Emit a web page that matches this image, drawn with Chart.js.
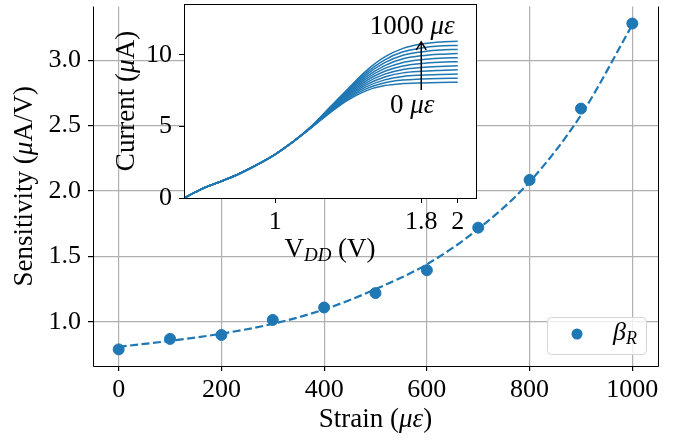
<!DOCTYPE html>
<html>
<head>
<meta charset="utf-8">
<script src="https://cdn.jsdelivr.net/npm/chart.js@4.4.1/dist/chart.umd.min.js"></script>
<style>
  html, body { margin: 0; padding: 0; background: #fff; }
  #wrap { position: relative; width: 686px; height: 441px; overflow: hidden; }
  #mainChart { position: absolute; left: 0; top: 0; }
  #insetChart { position: absolute; left: 100px; top: 0; }
</style>
</head>
<body>
<div id="wrap">
  <canvas id="mainChart" width="686" height="441"></canvas>
  <canvas id="insetChart" width="390" height="270"></canvas>
</div>
<script>
// main plot: sensitivity vs strain
const strain = [0, 100, 200, 300, 400, 500, 600, 700, 800, 900, 1000];
const sensitivity = [0.79, 0.87, 0.90, 1.015, 1.11, 1.22, 1.395, 1.72, 2.085, 2.63, 3.28];
const sensitivityFit = [0.81, 0.855, 0.91, 0.985, 1.095, 1.25, 1.44, 1.71, 2.07, 2.58, 3.27];
const strainTicks = [0, 200, 400, 600, 800, 1000];
const sensTicks = [1.0, 1.5, 2.0, 2.5, 3.0];

// inset: current vs VDD, one curve per strain level (0..1000 step 100)
const vdd = [0.5, 0.6, 0.7, 0.8, 0.9, 1.0, 1.1, 1.2, 1.3, 1.4, 1.5, 1.6, 1.7, 1.8, 1.9, 2.0];
const cur0    = [0, 0.65, 1.15, 1.68, 2.32, 3.05, 3.95, 4.93, 5.95, 6.85, 7.50, 7.85, 7.99, 8.04, 8.07, 8.08];
const cur100  = [0, 0.65, 1.15, 1.68, 2.32, 3.05, 3.95, 4.94, 5.99, 6.93, 7.64, 8.05, 8.24, 8.31, 8.35, 8.37];
const cur200  = [0, 0.65, 1.15, 1.68, 2.32, 3.05, 3.95, 4.95, 6.03, 7.01, 7.78, 8.25, 8.49, 8.58, 8.63, 8.66];
const cur300  = [0, 0.65, 1.15, 1.68, 2.32, 3.05, 3.95, 4.96, 6.07, 7.09, 7.92, 8.45, 8.74, 8.85, 8.91, 8.95];
const cur400  = [0, 0.65, 1.15, 1.68, 2.32, 3.05, 3.95, 4.97, 6.11, 7.17, 8.06, 8.65, 8.98, 9.12, 9.19, 9.23];
const cur500  = [0, 0.65, 1.15, 1.68, 2.32, 3.05, 3.95, 4.98, 6.15, 7.25, 8.20, 8.85, 9.22, 9.39, 9.48, 9.52];
const cur600  = [0, 0.65, 1.15, 1.68, 2.32, 3.05, 3.95, 4.99, 6.19, 7.33, 8.34, 9.05, 9.47, 9.66, 9.76, 9.80];
const cur700  = [0, 0.65, 1.15, 1.68, 2.32, 3.05, 3.95, 5.00, 6.23, 7.41, 8.48, 9.25, 9.72, 9.93, 10.04, 10.09];
const cur800  = [0, 0.65, 1.15, 1.68, 2.32, 3.05, 3.95, 5.01, 6.27, 7.49, 8.62, 9.45, 9.97, 10.20, 10.33, 10.38];
const cur900  = [0, 0.65, 1.15, 1.68, 2.32, 3.05, 3.95, 5.02, 6.31, 7.57, 8.76, 9.65, 10.21, 10.48, 10.62, 10.66];
const cur1000 = [0, 0.65, 1.15, 1.68, 2.32, 3.05, 3.95, 5.04, 6.35, 7.65, 8.90, 9.85, 10.45, 10.75, 10.90, 10.95];
const curves = [cur0, cur100, cur200, cur300, cur400, cur500, cur600, cur700, cur800, cur900, cur1000];
const vddTicks = [1, 1.8, 2];
const currentTicks = [0, 5, 10];

const FONT = "'Liberation Serif', 'Times New Roman', serif";
const BLUE = '#1f77b4';
Chart.defaults.font.family = FONT;
Chart.defaults.font.size = 26;
Chart.defaults.color = '#000';

function fontOf(p) {
  return (p.i ? 'italic ' : '') + (p.s || 27) + 'px ' + FONT;
}

// draw text made of normal / italic / subscript pieces, centred on (x, y)
function drawRich(ctx, parts, x, y, angle) {
  ctx.save();
  ctx.translate(x, y);
  if (angle) ctx.rotate(angle);
  ctx.textBaseline = 'middle';
  ctx.textAlign = 'left';
  ctx.fillStyle = '#000';
  let total = 0;
  parts.forEach(p => { ctx.font = fontOf(p); total += ctx.measureText(p.t).width; });
  let cx = -total / 2;
  parts.forEach(p => {
    ctx.font = fontOf(p);
    ctx.fillText(p.t, cx, p.dy || 0);
    cx += ctx.measureText(p.t).width;
  });
  ctx.restore();
}

const mainDecor = {
  id: 'mainDecor',
  afterDatasetsDraw(chart) {
    const ctx = chart.ctx;
    const a = chart.chartArea;
    ctx.save();
    ctx.strokeStyle = '#000';
    ctx.lineWidth = 1;
    ctx.beginPath();
    ctx.moveTo(a.left + 0.5, a.top);
    ctx.lineTo(a.left + 0.5, a.bottom + 0.5);
    ctx.lineTo(a.right + 0.5, a.bottom + 0.5);
    ctx.lineTo(a.right + 0.5, a.top);
    ctx.stroke();

    // legend box
    const lx = a.right - 111, ly = a.bottom - 49, lw = 99, lh = 37;
    ctx.beginPath();
    ctx.roundRect(lx + 0.5, ly + 0.5, lw, lh, 4);
    ctx.fillStyle = 'rgba(255,255,255,0.8)';
    ctx.fill();
    ctx.strokeStyle = '#d5d5d5';
    ctx.stroke();
    ctx.beginPath();
    ctx.arc(lx + 30, ly + 17, 5.5, 0, Math.PI * 2);
    ctx.fillStyle = BLUE;
    ctx.fill();
    ctx.restore();
    drawRich(ctx, [{t: 'β', i: true, s: 26}, {t: 'R', i: true, s: 18, dy: 6}], lx + 78, ly + 16);

    drawRich(ctx, [{t: 'Sensitivity ('}, {t: 'μ', i: true}, {t: 'A/V)'}], 25, (a.top + a.bottom) / 2, -Math.PI / 2);
    drawRich(ctx, [{t: 'Strain ('}, {t: 'με', i: true}, {t: ')'}], (a.left + a.right) / 2, 420);
  }
};

new Chart(document.getElementById('mainChart'), {
  type: 'scatter',
  data: {
    datasets: [
      {
        label: 'βR',
        data: strain.map((s, i) => ({x: s, y: sensitivity[i]})),
        backgroundColor: BLUE,
        borderColor: BLUE,
        pointRadius: 5.5,
        pointHoverRadius: 5.5,
        order: 0
      },
      {
        type: 'line',
        label: 'fit',
        data: strain.map((s, i) => ({x: s, y: sensitivityFit[i]})),
        borderColor: BLUE,
        borderWidth: 2.2,
        borderDash: [8, 3.5],
        pointRadius: 0,
        fill: false,
        cubicInterpolationMode: 'monotone',
        order: 1
      }
    ]
  },
  options: {
    responsive: false,
    animation: false,
    devicePixelRatio: 1,
    layout: {padding: {top: 0, right: 28, left: 0, bottom: 0}},
    plugins: {legend: {display: false}, tooltip: {enabled: false}},
    scales: {
      x: {
        type: 'linear',
        min: -50,
        max: 1050,
        afterBuildTicks: s => { s.ticks = strainTicks.map(v => ({value: v})); },
        afterFit: s => { s.height = 75; s.paddingLeft = 0; s.paddingRight = 0; },
        grid: {color: '#b0b0b0', lineWidth: 1.2, tickColor: '#000', tickLength: 5},
        border: {display: false},
        ticks: {padding: 4, maxRotation: 0, autoSkip: false, callback: v => String(v)}
      },
      y: {
        type: 'linear',
        min: 0.663,
        max: 3.41,
        afterBuildTicks: s => { s.ticks = sensTicks.map(v => ({value: v})); },
        afterFit: s => { s.width = 93; s.paddingTop = 0; s.paddingBottom = 0; },
        grid: {color: '#b0b0b0', lineWidth: 1.2, tickColor: '#000', tickLength: 5},
        border: {display: false},
        ticks: {padding: 7, autoSkip: false, callback: v => v.toFixed(1)}
      }
    }
  },
  plugins: [mainDecor]
});

const insetDecor = {
  id: 'insetDecor',
  beforeDraw(chart) {
    const a = chart.chartArea;
    const ctx = chart.ctx;
    ctx.save();
    ctx.fillStyle = '#fff';
    ctx.fillRect(a.left, a.top, a.right - a.left, a.bottom - a.top);
    ctx.restore();
  },
  afterDraw(chart) {
    const ctx = chart.ctx;
    const a = chart.chartArea;
    const xs = chart.scales.x, ys = chart.scales.y;
    ctx.save();
    ctx.strokeStyle = '#000';
    ctx.lineWidth = 1;
    ctx.strokeRect(a.left + 0.5, a.top + 0.5, a.right - a.left, a.bottom - a.top);

    // arrow from 0 to 1000 microstrain at VDD = 1.8 V
    const ax = xs.getPixelForValue(1.8);
    const y0 = ys.getPixelForValue(7.55), y1 = ys.getPixelForValue(10.9);
    ctx.lineWidth = 1.5;
    ctx.beginPath();
    ctx.moveTo(ax, y0);
    ctx.lineTo(ax, y1);
    ctx.moveTo(ax - 5, y1 + 8);
    ctx.lineTo(ax, y1);
    ctx.lineTo(ax + 5, y1 + 8);
    ctx.stroke();
    ctx.restore();

    drawRich(ctx, [{t: '1000 '}, {t: 'με', i: true}], xs.getPixelForValue(1.75), ys.getPixelForValue(11.95));
    drawRich(ctx, [{t: '0 '}, {t: 'με', i: true}], xs.getPixelForValue(1.75), ys.getPixelForValue(6.43));

    drawRich(ctx, [{t: 'Current ('}, {t: 'μ', i: true}, {t: 'A)'}], 27, (a.top + a.bottom) / 2, -Math.PI / 2);
    drawRich(ctx, [{t: 'V'}, {t: 'DD', i: true, s: 19, dy: 6}, {t: ' (V)'}], (a.left + a.right) / 2, 250);
  }
};

new Chart(document.getElementById('insetChart'), {
  type: 'line',
  data: {
    datasets: curves.map((c, k) => ({
      label: (k * 100) + ' με',
      data: vdd.map((v, i) => ({x: v, y: c[i]})),
      borderColor: BLUE,
      borderWidth: 1.5,
      pointRadius: 0,
      fill: false,
      cubicInterpolationMode: 'monotone'
    }))
  },
  options: {
    responsive: false,
    animation: false,
    devicePixelRatio: 1,
    layout: {padding: {top: 4, right: 14, left: 0, bottom: 0}},
    plugins: {legend: {display: false}, tooltip: {enabled: false}},
    scales: {
      x: {
        type: 'linear',
        min: 0.5,
        max: 2.1,
        afterBuildTicks: s => { s.ticks = vddTicks.map(v => ({value: v})); },
        afterFit: s => { s.height = 72; s.paddingLeft = 0; s.paddingRight = 0; },
        grid: {drawOnChartArea: false, tickColor: '#000', tickLength: 5},
        border: {display: false},
        ticks: {padding: 4, maxRotation: 0, autoSkip: false, callback: v => String(v)}
      },
      y: {
        type: 'linear',
        min: 0,
        max: 13.55,
        afterBuildTicks: s => { s.ticks = currentTicks.map(v => ({value: v})); },
        afterFit: s => { s.width = 84; s.paddingTop = 0; s.paddingBottom = 0; },
        grid: {drawOnChartArea: false, tickColor: '#000', tickLength: 5},
        border: {display: false},
        ticks: {padding: 7, autoSkip: false, callback: v => String(v)}
      }
    }
  },
  plugins: [insetDecor]
});
</script>
</body>
</html>
